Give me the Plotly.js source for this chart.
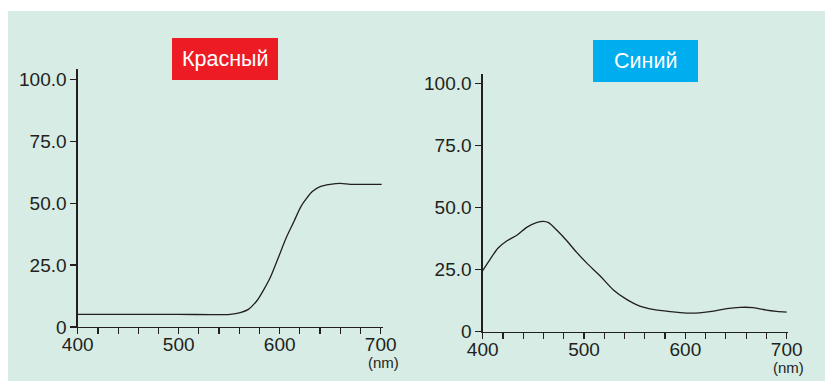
<!DOCTYPE html>
<html>
<head>
<meta charset="utf-8">
<script src="https://cdn.plot.ly/plotly-3.0.1.min.js"></script>
<style>
  html, body { margin: 0; padding: 0; background: #ffffff; }
  #chart { width: 826px; height: 381px; }
</style>
</head>
<body>
<div id="chart"></div>
<script>
// Spectral reflectance curves (wavelength in nm, reflectance in %)
const redWavelength = [400, 450, 500, 551, 561, 569, 578, 584, 591, 599, 607, 614, 621, 626, 632, 640, 650, 660, 670, 687, 701];
const redReflectance = [5.1, 5.1, 5.1, 5.1, 5.8, 7.1, 10.9, 14.9, 20.3, 28.4, 36.5, 42.5, 48.6, 51.6, 54.6, 56.7, 57.6, 58.0, 57.6, 57.6, 57.6];

const blueWavelength = [400, 407, 415, 424, 434, 443, 453, 460, 465, 473, 483, 493, 503, 516, 529, 542, 555, 568, 585, 601, 614, 628, 641, 654, 667, 680, 690, 700];
const blueReflectance = [24.6, 28.9, 33.6, 36.6, 38.9, 41.9, 43.9, 44.4, 43.9, 40.9, 36.6, 31.8, 27.5, 22.4, 16.8, 13.0, 10.3, 9.0, 8.1, 7.5, 7.6, 8.3, 9.3, 9.8, 9.7, 8.7, 8.2, 7.9];

const panelTitles = ['Красный', 'Синий'];
const xTickValues = [400, 500, 600, 700];
const xTickLabels = ['400', '500', '600', '700'];
const xMinorStep = 20;
const yTickValues = [0, 25, 50, 75, 100];
const yTickLabels = ['0', '25.0', '50.0', '75.0', '100.0'];
const unitLabel = '(nm)';

const W = 826, H = 381;
const px = v => v / W;
const py = v => (H - v) / H;

const inkColor = '#231f20';
const fontFamily = 'Liberation Sans, Arial, Helvetica, sans-serif';
const tickFont = { family: fontFamily, size: 19, color: inkColor };

function xAxis(domain, range) {
  return {
    domain: domain, range: range, fixedrange: true,
    showgrid: false, zeroline: false,
    showline: true, linecolor: inkColor, linewidth: 1.3,
    tickmode: 'array', tickvals: xTickValues, ticktext: xTickLabels,
    ticks: 'outside', ticklen: 6, tickwidth: 1.2, tickcolor: inkColor,
    tickfont: tickFont, ticklabelstandoff: -6,
    minor: { dtick: xMinorStep, tick0: 400, ticks: 'outside', ticklen: 6, tickwidth: 1.2, tickcolor: inkColor, showgrid: false }
  };
}
function yAxis(domain, range, anchor) {
  return {
    domain: domain, range: range, fixedrange: true, anchor: anchor,
    showgrid: false, zeroline: false,
    showline: true, linecolor: inkColor, linewidth: 1.3,
    tickmode: 'array', tickvals: yTickValues, ticktext: yTickLabels,
    ticks: 'outside', ticklen: 6, tickwidth: 1.2, tickcolor: inkColor,
    tickfont: tickFont
  };
}

const curveLine = { color: '#231f20', width: 1.3, shape: 'spline', smoothing: 0.8 };
const traces = [
  { x: redWavelength, y: redReflectance, xaxis: 'x', yaxis: 'y', mode: 'lines', line: curveLine, hoverinfo: 'skip' },
  { x: blueWavelength, y: blueReflectance, xaxis: 'x2', yaxis: 'y2', mode: 'lines', line: curveLine, hoverinfo: 'skip' }
];

const layout = {
  width: W, height: H,
  margin: { l: 0, r: 0, t: 0, b: 0 },
  paper_bgcolor: '#ffffff',
  plot_bgcolor: 'rgba(0,0,0,0)',
  showlegend: false,
  xaxis: Object.assign(xAxis([px(77.7), px(382.7)], [400, 702]), { anchor: 'y' }),
  yaxis: yAxis([py(327), py(69.4)], [0, 104], 'x'),
  xaxis2: Object.assign(xAxis([px(482.7), px(787.7)], [400, 701]), { anchor: 'y2' }),
  yaxis2: yAxis([py(331.7), py(74)], [0, 103.7], 'x2'),
  shapes: [
    { type: 'rect', xref: 'paper', yref: 'paper', layer: 'below',
      x0: px(8), x1: px(825), y0: py(381), y1: py(11),
      fillcolor: '#d6ece4', line: { width: 0 } },
    { type: 'rect', xref: 'paper', yref: 'paper', layer: 'below',
      x0: px(172), x1: px(278), y0: py(80), y1: py(38),
      fillcolor: '#ed1c24', line: { width: 0 } },
    { type: 'rect', xref: 'paper', yref: 'paper', layer: 'below',
      x0: px(593), x1: px(698), y0: py(82), y1: py(40),
      fillcolor: '#00aeef', line: { width: 0 } }
  ],
  annotations: [
    { text: panelTitles[0], xref: 'paper', yref: 'paper', x: px(225), y: py(59),
      xanchor: 'center', yanchor: 'middle', showarrow: false,
      font: { family: fontFamily, size: 21.5, color: '#ffffff' } },
    { text: panelTitles[1], xref: 'paper', yref: 'paper', x: px(645.5), y: py(61),
      xanchor: 'center', yanchor: 'middle', showarrow: false,
      font: { family: fontFamily, size: 21.5, color: '#ffffff' } },
    { text: unitLabel, xref: 'paper', yref: 'paper', x: px(383.5), y: py(362.5),
      xanchor: 'center', yanchor: 'middle', showarrow: false,
      font: { family: fontFamily, size: 15, color: inkColor } },
    { text: unitLabel, xref: 'paper', yref: 'paper', x: px(788), y: py(367.5),
      xanchor: 'center', yanchor: 'middle', showarrow: false,
      font: { family: fontFamily, size: 15, color: inkColor } }
  ]
};

Plotly.newPlot('chart', traces, layout, { staticPlot: true, displayModeBar: false });
</script>
</body>
</html>
